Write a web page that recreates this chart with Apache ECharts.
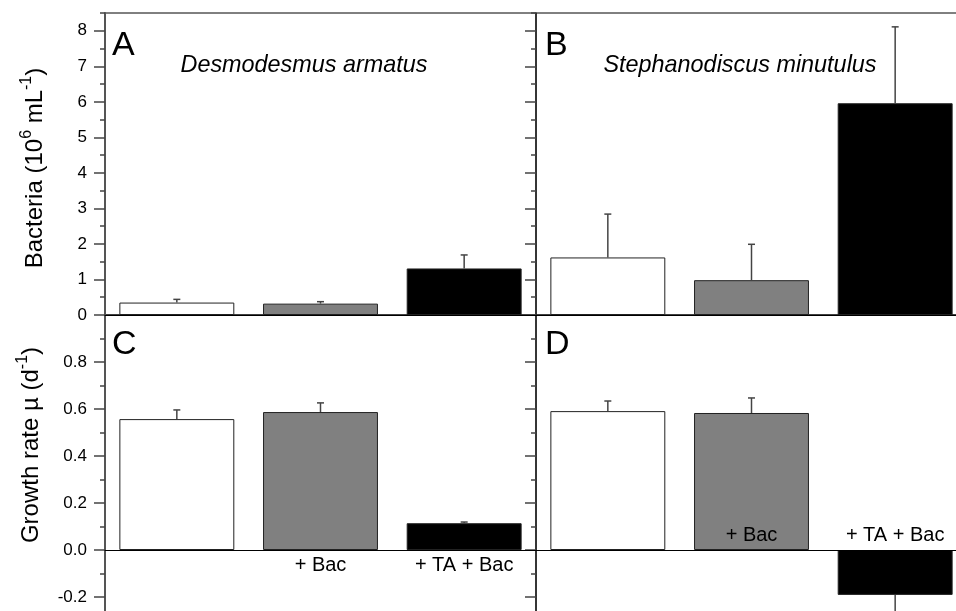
<!DOCTYPE html>
<html>
<head>
<meta charset="utf-8">
<script src="https://cdn.jsdelivr.net/npm/echarts@6/dist/echarts.min.js"></script>
<style>
  html, body { margin: 0; padding: 0; background: #fff; }
  #chart { width: 956px; height: 611px; }
</style>
</head>
<body>
<div id="chart"></div>
<script>
// Treatments (control, bacteria added, toxic algae + bacteria)
const treatments = ['', '+ Bac', '+ TA + Bac'];

// Bacterial abundance (10^6 mL^-1), mean and SD
const bacteriaDesmodesmus = [0.35, 0.32, 1.31];
const bacteriaDesmodesmusSD = [0.09, 0.055, 0.38];
const bacteriaStephanodiscus = [1.62, 0.98, 5.96];
const bacteriaStephanodiscusSD = [1.22, 1.01, 2.15];

// Growth rate µ (d^-1), mean and SD
const growthDesmodesmus = [0.557, 0.587, 0.114];
const growthDesmodesmusSD = [0.039, 0.039, 0.005];
const growthStephanodiscus = [0.591, 0.583, -0.191];
const growthStephanodiscusSD = [0.043, 0.064, 0.09];

// Axis ticks
const bacteriaTicks = [0, 1, 2, 3, 4, 5, 6, 7, 8];
const bacteriaMinorTicks = [0.5, 1.5, 2.5, 3.5, 4.5, 5.5, 6.5, 7.5, 8.5];
const growthTicks = [-0.2, 0.0, 0.2, 0.4, 0.6, 0.8, 1.0];
const growthTickLabels = [-0.2, 0.0, 0.2, 0.4, 0.6, 0.8];
const growthMinorTicks = [-0.3, -0.1, 0.1, 0.3, 0.5, 0.7, 0.9];

const barFill = ['#ffffff', '#808080', '#000000'];
const FONT = 'Liberation Sans, Arial, sans-serif';

const chart = echarts.init(document.getElementById('chart'), null, { renderer: 'canvas' });

// Growth panels span -0.3 .. 1.0; the zero line sits 0.3/1.3 of the height above the grid bottom
const GROWTH_MIN = -0.3, GROWTH_MAX = 1.0, GROWTH_H = 305.5;
const zeroOffset = GROWTH_H * (0 - GROWTH_MIN) / (GROWTH_MAX - GROWTH_MIN);

const gridBox = [
  { left: 105, top: 13, width: 431, height: 302 },
  { left: 536, top: 13, width: 431, height: 302 },
  { left: 105, top: 315, width: 431, height: GROWTH_H },
  { left: 536, top: 315, width: 431, height: GROWTH_H }
];

const grids = gridBox.map(g => Object.assign({
  show: true, borderColor: '#000', borderWidth: 1, backgroundColor: 'transparent',
  containLabel: false, outerBoundsMode: 'none'
}, g));

const xAxes = gridBox.map((g, i) => ({
  type: 'category',
  gridIndex: i,
  data: treatments,
  position: 'bottom',
  offset: i >= 2 ? -zeroOffset : 0,
  z: 4,
  axisLine: { show: true, onZero: false, lineStyle: { color: '#000', width: 1 } },
  axisTick: { show: false },
  axisLabel: {
    show: i >= 2,
    inside: i === 3,
    margin: 5,
    fontSize: 20,
    fontFamily: FONT,
    color: '#000',
    interval: 0
  },
  splitLine: { show: false }
}));

function yPair(gridIndex, min, max, ticks, labels, minor, showLabels, fmt) {
  const lineColor = showLabels ? '#555' : '#333';
  return [
    {
      type: 'value', gridIndex, min, max, position: 'left',
      axisLine: { show: true, lineStyle: { color: lineColor, width: showLabels ? 2 : 1.5 } },
      axisTick: { show: true, inside: false, length: 11, customValues: ticks,
                  lineStyle: { color: '#444', width: 1.5 } },
      axisLabel: { show: showLabels, customValues: labels, margin: 18, fontSize: 17,
                   fontFamily: FONT, color: '#000', formatter: fmt },
      splitLine: { show: false }
    },
    {
      type: 'value', gridIndex, min, max, position: 'left',
      axisLine: { show: false },
      axisTick: { show: true, inside: false, length: 5, customValues: minor,
                  lineStyle: { color: '#444', width: 1.5 } },
      axisLabel: { show: false },
      splitLine: { show: false }
    }
  ];
}

const fmtInt = v => String(Math.round(v));
const fmtOne = v => v.toFixed(1);

const yAxes = [].concat(
  yPair(0, 0, 8.5, bacteriaTicks, bacteriaTicks, bacteriaMinorTicks, true, fmtInt),
  yPair(1, 0, 8.5, bacteriaTicks, bacteriaTicks, bacteriaMinorTicks, false, fmtInt),
  yPair(2, GROWTH_MIN, GROWTH_MAX, growthTicks, growthTickLabels, growthMinorTicks, true, fmtOne),
  yPair(3, GROWTH_MIN, GROWTH_MAX, growthTicks, growthTickLabels, growthMinorTicks, false, fmtOne)
);

function barSeries(i, values) {
  return {
    type: 'bar',
    xAxisIndex: i,
    yAxisIndex: i * 2,
    barCategoryGap: '20%',
    data: values.map((v, k) => ({
      value: v,
      itemStyle: { color: barFill[k], borderColor: '#222', borderWidth: 1 }
    })),
    silent: true,
    animation: false
  };
}

function errorSeries(i, values, sd) {
  return {
    type: 'custom',
    xAxisIndex: i,
    yAxisIndex: i * 2,
    data: values.map((v, k) => [k, v, sd[k]]),
    renderItem: function (params, api) {
      const k = api.value(0), m = api.value(1), s = api.value(2);
      const end = m >= 0 ? m + s : m - s;
      const p0 = api.coord([k, m]);
      const p1 = api.coord([k, end]);
      const style = { stroke: '#444', lineWidth: 1.5 };
      return {
        type: 'group',
        children: [
          { type: 'line', shape: { x1: p0[0], y1: p0[1], x2: p1[0], y2: p1[1] }, style },
          { type: 'line', shape: { x1: p1[0] - 3.5, y1: p1[1], x2: p1[0] + 3.5, y2: p1[1] }, style }
        ]
      };
    },
    z: 5,
    silent: true,
    animation: false
  };
}

const series = [
  barSeries(0, bacteriaDesmodesmus), errorSeries(0, bacteriaDesmodesmus, bacteriaDesmodesmusSD),
  barSeries(1, bacteriaStephanodiscus), errorSeries(1, bacteriaStephanodiscus, bacteriaStephanodiscusSD),
  barSeries(2, growthDesmodesmus), errorSeries(2, growthDesmodesmus, growthDesmodesmusSD),
  barSeries(3, growthStephanodiscus), errorSeries(3, growthStephanodiscus, growthStephanodiscusSD)
];

const richAxisName = {
  m: { fontSize: 24, fontFamily: FONT, color: '#000', lineHeight: 28, verticalAlign: 'bottom' },
  s: { fontSize: 16, fontFamily: FONT, color: '#000', lineHeight: 15, verticalAlign: 'top' }
};

function panelLetter(text, x, y) {
  return { type: 'text', x, y, z: 10,
           style: { text, fontSize: 34, fontFamily: FONT, fill: '#000', align: 'left', verticalAlign: 'top' } };
}
function speciesName(text, x, y) {
  return { type: 'text', x, y, z: 10,
           style: { text, fontSize: 23.4, fontStyle: 'italic', fontFamily: FONT, fill: '#000',
                    align: 'center', verticalAlign: 'top' } };
}

const graphic = [
  panelLetter('A', 112, 29),
  panelLetter('B', 545, 29),
  panelLetter('C', 112, 328),
  panelLetter('D', 545, 328),
  speciesName('Desmodesmus armatus', 304, 54),
  speciesName('Stephanodiscus minutulus', 740, 54),
  {
    type: 'text', x: 33, y: 168, rotation: Math.PI / 2, z: 10,
    style: { text: '{m|Bacteria (10}{s|6}{m| mL}{s|-1}{m|)}', rich: richAxisName,
             align: 'center', verticalAlign: 'middle' }
  },
  {
    type: 'text', x: 29, y: 445, rotation: Math.PI / 2, z: 10,
    style: { text: '{m|Growth rate µ (d}{s|-1}{m|)}', rich: richAxisName,
             align: 'center', verticalAlign: 'middle' }
  }
];

chart.setOption({
  animation: false,
  backgroundColor: '#fff',
  grid: grids,
  xAxis: xAxes,
  yAxis: yAxes,
  series,
  graphic
});
</script>
</body>
</html>
